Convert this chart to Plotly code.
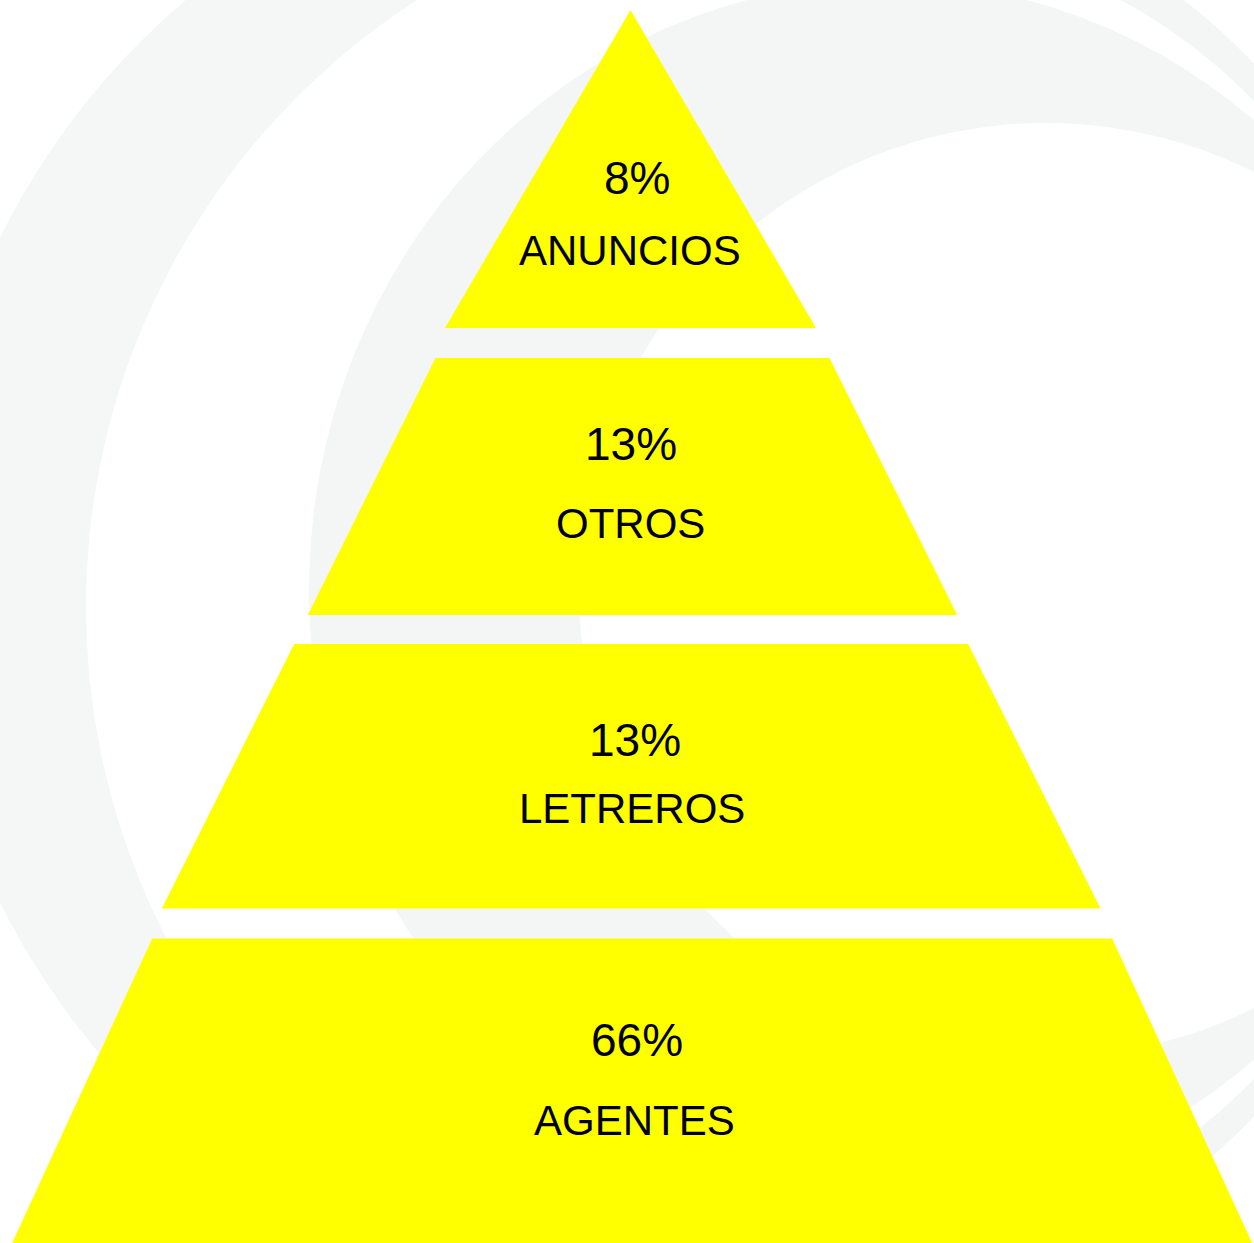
import numpy as np
import plotly.graph_objects as go

# ---- data ----
categories = ["ANUNCIOS", "OTROS", "LETREROS", "AGENTES"]
percentages = [8, 13, 13, 66]

# ---- layout / geometry constants (pixel space of the canvas) ----
W, H = 1254, 1243
layer_top = [10, 358, 644, 938.5]
layer_bottom = [328, 615, 908.5, 1243]
top_half = [0, 197, 337, 480]
bottom_half = [185.5, 324.7, 469.3, 620]
layer_cx = [630.5, 632.5, 631.2, 632.2]
pct_pos = [(637, 178), (630.5, 444), (635, 740), (637, 1040)]
name_pos = [(629.5, 250), (630.5, 523), (631.5, 808), (634, 1120)]

YELLOW = "#FFFF00"
GRAY = "#F4F5F5"
FONT = "Liberation Sans, Arial, Helvetica, sans-serif"

fig = go.Figure()

for i, cat in enumerate(categories):
    cx = layer_cx[i]
    xs = [cx - top_half[i], cx + top_half[i], cx + bottom_half[i], cx - bottom_half[i], cx - top_half[i]]
    ys = [layer_top[i], layer_top[i], layer_bottom[i], layer_bottom[i], layer_top[i]]
    fig.add_trace(go.Scatter(
        x=xs, y=ys, mode="lines", fill="toself", fillcolor=YELLOW,
        line=dict(width=0, color=YELLOW), hoverinfo="skip", showlegend=False,
        name=cat,
    ))

annotations = []
for i, cat in enumerate(categories):
    annotations.append(dict(
        x=pct_pos[i][0], y=pct_pos[i][1], xref="x", yref="y",
        text=f"{percentages[i]}%", showarrow=False,
        xanchor="center", yanchor="middle",
        font=dict(family=FONT, size=46, color="#000000"),
    ))
    annotations.append(dict(
        x=name_pos[i][0], y=name_pos[i][1], xref="x", yref="y",
        text=cat, showarrow=False,
        xanchor="center", yanchor="middle",
        font=dict(family=FONT, size=42, color="#000000"),
    ))


def ellipse(cx, cy, rx, ry, color):
    return dict(type="circle", xref="x", yref="y", layer="below",
                x0=cx - rx, x1=cx + rx, y0=cy - ry, y1=cy + ry,
                fillcolor=color, line=dict(width=0))


def ring_sector(cx, cy, ai, bi, ao, bo, t0, t1, color):
    t = np.radians(np.linspace(t0, t1, 120))
    xo = cx + ao * np.cos(t)
    yo = cy - bo * np.sin(t)
    xi = cx + ai * np.cos(t[::-1])
    yi = cy - bi * np.sin(t[::-1])
    pts = list(zip(xo, yo)) + list(zip(xi, yi))
    path = "M " + " L ".join(f"{x:.1f},{y:.1f}" for x, y in pts) + " Z"
    return dict(type="path", xref="x", yref="y", layer="below", path=path,
                fillcolor=color, line=dict(width=0))


shapes = [
    ellipse(670, 570, 748, 748, "#F5F6F6"),
    ellipse(808, 607, 722, 722, "#FFFFFF"),
    ellipse(887, 590, 578, 608, GRAY),
    ellipse(1046, 590, 467, 467, "#FFFFFF"),
    ring_sector(887, 590, 557, 650, 563, 694, -80, 80, GRAY),
]

fig.update_layout(
    width=W, height=H,
    margin=dict(l=0, r=0, t=0, b=0, pad=0),
    paper_bgcolor="#FFFFFF", plot_bgcolor="#FFFFFF",
    xaxis=dict(range=[0, W], visible=False, fixedrange=True),
    yaxis=dict(range=[H, 0], visible=False, fixedrange=True),
    showlegend=False,
    annotations=annotations,
    shapes=shapes,
)

fig.write_html("out.html", config={"displayModeBar": False})
